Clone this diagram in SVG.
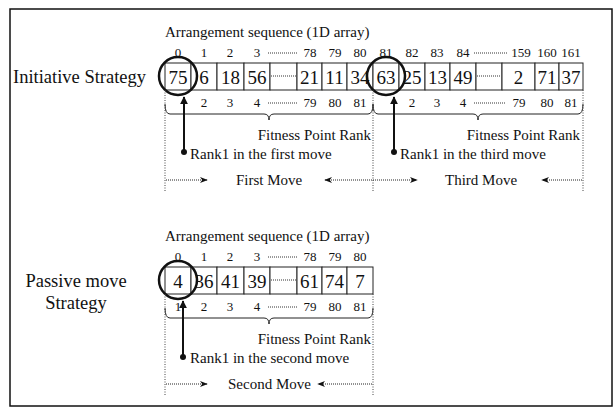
<svg xmlns="http://www.w3.org/2000/svg" width="615" height="417" viewBox="0 0 615 417">
<style>
text{font-family:"Liberation Serif","Times New Roman",serif;fill:#111}
.ttl{font-size:15px}
.lbl{font-size:18.5px}
.idx{font-size:13px;text-anchor:middle}
.num{font-size:19px;text-anchor:middle}
.txt{font-size:15px}
.cell{fill:#fff;stroke:#222;stroke-width:1}
.dots{stroke:#333;stroke-width:1;stroke-dasharray:1,1;fill:none}
.vdot{stroke:#444;stroke-width:1;stroke-dasharray:1,1.5;fill:none}
.circ{fill:none;stroke:#111;stroke-width:2.5}
.brace{fill:none;stroke:#222;stroke-width:1}
.ptr{stroke:#111;stroke-width:2;fill:none}
.mv{stroke:#222;stroke-width:1;stroke-dasharray:1,1;fill:none}
</style>
<defs>
<marker id="ah" viewBox="0 0 10 10" refX="9" refY="5" markerWidth="8" markerHeight="8" orient="auto-start-reverse" markerUnits="userSpaceOnUse">
<path d="M0,1 L10,5 L0,9 L3,5 z" fill="#111"/>
</marker>
<marker id="ahb" viewBox="0 0 10 10" refX="9" refY="5" markerWidth="8" markerHeight="8" orient="auto" markerUnits="userSpaceOnUse">
<path d="M0,0 L10,5 L0,10 z" fill="#111"/>
</marker>
</defs>
<rect x="10" y="9" width="602" height="397" fill="#fff" stroke="#111" stroke-width="1.5"/>

<g id="initiative-strategy">
<text class="lbl" x="13" y="83">Initiative Strategy</text>
<text class="ttl" x="165" y="37">Arrangement sequence (1D array)</text>
<g id="upper-index">
<text class="idx" x="178" y="57">0</text><text class="idx" x="204" y="57">1</text><text class="idx" x="230" y="57">2</text><text class="idx" x="257" y="57">3</text>
<line class="dots" x1="268" y1="53" x2="298" y2="53"/>
<text class="idx" x="310" y="57">78</text><text class="idx" x="335" y="57">79</text><text class="idx" x="360" y="57">80</text><text class="idx" x="386" y="57">81</text><text class="idx" x="412" y="57">82</text><text class="idx" x="437" y="57">83</text><text class="idx" x="463" y="57">84</text>
<line class="dots" x1="474" y1="53" x2="508" y2="53"/>
<text class="idx" x="521" y="57">159</text><text class="idx" x="547" y="57">160</text><text class="idx" x="571" y="57">161</text>
</g>
<g id="upper-array">
<rect class="cell" x="165" y="63" width="26" height="27"/><text class="num" x="178" y="84">75</text>
<rect class="cell" x="191" y="63" width="26" height="27"/><text class="num" x="204" y="84">6</text>
<rect class="cell" x="217" y="63" width="27" height="27"/><text class="num" x="230.5" y="84">18</text>
<rect class="cell" x="244" y="63" width="26" height="27"/><text class="num" x="257" y="84">56</text>
<rect class="cell" x="270" y="63" width="27" height="27"/><line class="dots" x1="271" y1="76" x2="296" y2="76"/>
<rect class="cell" x="297" y="63" width="25" height="27"/><text class="num" x="309.5" y="84">21</text>
<rect class="cell" x="322" y="63" width="25" height="27"/><text class="num" x="334.5" y="84">11</text>
<rect class="cell" x="347" y="63" width="26" height="27"/><text class="num" x="360" y="84">34</text>
<rect class="cell" x="373" y="63" width="26" height="27"/><text class="num" x="386" y="84">63</text>
<rect class="cell" x="399" y="63" width="26" height="27"/><text class="num" x="412" y="84">25</text>
<rect class="cell" x="425" y="63" width="25" height="27"/><text class="num" x="437.5" y="84">13</text>
<rect class="cell" x="450" y="63" width="26" height="27"/><text class="num" x="463" y="84">49</text>
<rect class="cell" x="476" y="63" width="26" height="27"/><line class="dots" x1="477" y1="76" x2="501" y2="76"/>
<rect class="cell" x="502" y="63" width="33" height="27"/><text class="num" x="518.5" y="84">2</text>
<rect class="cell" x="535" y="63" width="24" height="27"/><text class="num" x="547" y="84">71</text>
<rect class="cell" x="559" y="63" width="24" height="27"/><text class="num" x="571" y="84">37</text>
</g>
<g id="upper-rank">
<text class="idx" x="204" y="107">2</text><text class="idx" x="230" y="107">3</text><text class="idx" x="257" y="107">4</text>
<line class="dots" x1="268" y1="103" x2="298" y2="103"/>
<text class="idx" x="310" y="107">79</text><text class="idx" x="335" y="107">80</text><text class="idx" x="360" y="107">81</text>
<text class="idx" x="412" y="107">2</text><text class="idx" x="437" y="107">3</text><text class="idx" x="463" y="107">4</text>
<line class="dots" x1="474" y1="103" x2="506" y2="103"/>
<text class="idx" x="519" y="107">79</text><text class="idx" x="547" y="107">80</text><text class="idx" x="571" y="107">81</text>
</g>
<circle class="circ" cx="178" cy="76" r="19"/>
<circle class="circ" cx="386" cy="76" r="19"/>
<text class="txt" x="371" y="140" text-anchor="end">Fitness Point Rank</text>
<text class="txt" x="580" y="140" text-anchor="end">Fitness Point Rank</text>
<text class="txt" x="190" y="159">Rank1 in the first move</text>
<text class="txt" x="400" y="159">Rank1 in the third move</text>
<text class="txt" x="236" y="185">First Move</text>
<text class="txt" x="445" y="185">Third Move</text>
</g>

<g id="passive-strategy">
<text class="lbl" x="76" y="287" text-anchor="middle">Passive move</text>
<text class="lbl" x="76" y="309" text-anchor="middle">Strategy</text>
<text class="ttl" x="165" y="241">Arrangement sequence (1D array)</text>
<g id="lower-index">
<text class="idx" x="178" y="261">0</text><text class="idx" x="204" y="261">1</text><text class="idx" x="230" y="261">2</text><text class="idx" x="257" y="261">3</text>
<line class="dots" x1="268" y1="257" x2="298" y2="257"/>
<text class="idx" x="310" y="261">78</text><text class="idx" x="335" y="261">79</text><text class="idx" x="360" y="261">80</text>
</g>
<g id="lower-array">
<rect class="cell" x="165" y="267" width="26" height="27"/><text class="num" x="178" y="288">4</text>
<rect class="cell" x="191" y="267" width="26" height="27"/><text class="num" x="204" y="288">36</text>
<rect class="cell" x="217" y="267" width="27" height="27"/><text class="num" x="230.5" y="288">41</text>
<rect class="cell" x="244" y="267" width="26" height="27"/><text class="num" x="257" y="288">39</text>
<rect class="cell" x="270" y="267" width="27" height="27"/><line class="dots" x1="271" y1="280" x2="296" y2="280"/>
<rect class="cell" x="297" y="267" width="25" height="27"/><text class="num" x="309.5" y="288">61</text>
<rect class="cell" x="322" y="267" width="25" height="27"/><text class="num" x="334.5" y="288">74</text>
<rect class="cell" x="347" y="267" width="26" height="27"/><text class="num" x="360" y="288">7</text>
</g>
<g id="lower-rank">
<text class="idx" x="178" y="311">1</text><text class="idx" x="204" y="311">2</text><text class="idx" x="230" y="311">3</text><text class="idx" x="257" y="311">4</text>
<line class="dots" x1="268" y1="307" x2="298" y2="307"/>
<text class="idx" x="310" y="311">79</text><text class="idx" x="335" y="311">80</text><text class="idx" x="360" y="311">81</text>
</g>
<circle class="circ" cx="178" cy="280" r="19"/>
<text class="txt" x="371" y="344" text-anchor="end">Fitness Point Rank</text>
<text class="txt" x="190" y="363">Rank1 in the second move</text>
<text class="txt" x="228" y="389">Second Move</text>
</g>

<g id="connectors">
<line class="vdot" x1="165" y1="90" x2="165" y2="192"/>
<line class="vdot" x1="373" y1="90" x2="373" y2="192"/>
<line class="vdot" x1="583" y1="90" x2="583" y2="192"/>
<line class="vdot" x1="165" y1="294" x2="165" y2="396"/>
<line class="vdot" x1="373" y1="294" x2="373" y2="396"/>
<path class="brace" d="M165,104 Q165,114 170,114 L264,114 Q269,114 269,120 Q269,114 274,114 L368,114 Q373,114 373,104"/>
<path class="brace" d="M373,104 Q373,114 378,114 L473,114 Q478,114 478,120 Q478,114 483,114 L578,114 Q583,114 583,104"/>
<path class="brace" d="M165,308 Q165,318 170,318 L264,318 Q269,318 269,324 Q269,318 274,318 L368,318 Q373,318 373,308"/>
<line class="ptr" x1="184" y1="152" x2="184" y2="97" marker-end="url(#ahb)"/>
<circle cx="184" cy="152" r="3" fill="#111"/>
<line class="ptr" x1="394" y1="152" x2="394" y2="97" marker-end="url(#ahb)"/>
<circle cx="394" cy="152" r="3" fill="#111"/>
<line class="ptr" x1="183" y1="357" x2="183" y2="301" marker-end="url(#ahb)"/>
<circle cx="183" cy="357" r="3" fill="#111"/>
<line class="mv" x1="166" y1="180" x2="207" y2="180" marker-end="url(#ah)"/>
<line class="mv" x1="325" y1="180" x2="417" y2="180" marker-start="url(#ah)" marker-end="url(#ah)"/>
<line class="mv" x1="582" y1="180" x2="542" y2="180" marker-end="url(#ah)"/>
<line class="mv" x1="166" y1="384" x2="207" y2="384" marker-end="url(#ah)"/>
<line class="mv" x1="372" y1="384" x2="318" y2="384" marker-end="url(#ah)"/>
</g>
</svg>
